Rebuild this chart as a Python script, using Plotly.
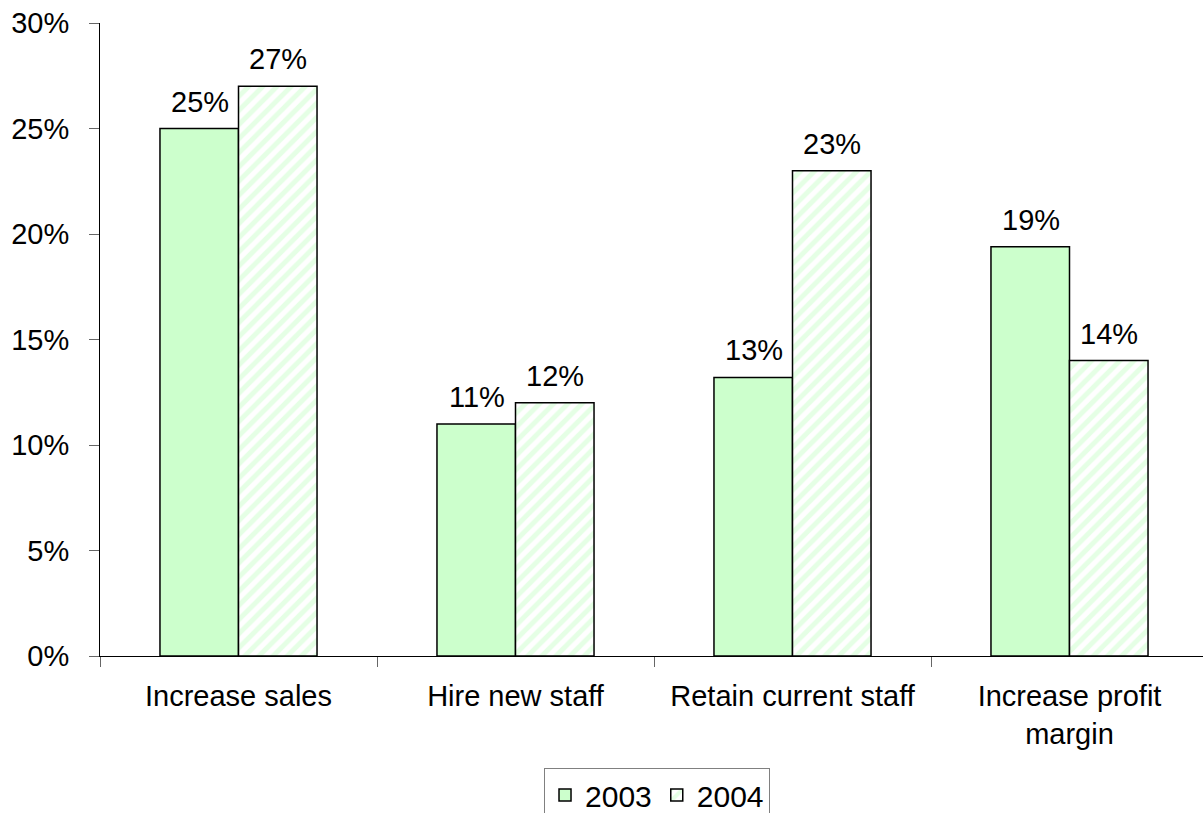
import plotly.graph_objects as go

categories = ["Increase sales", "Hire new staff", "Retain current staff", "Increase profit<br>margin"]
values_2003 = [25.0, 11.0, 13.2, 19.4]
values_2004 = [27.0, 12.0, 23.0, 14.0]
y_ticks = [0, 5, 10, 15, 20, 25, 30]

GREEN = "#ccffcc"
FONT = "Liberation Sans, Arial, sans-serif"
BAR_HALF_PX = 39  # horizontal offset of each series' bar centre within its group

fig = go.Figure()
fig.add_trace(go.Bar(
    name="2003", x=categories, y=values_2003,
    marker=dict(color=GREEN, line=dict(color="black", width=1.5)),
))
fig.add_trace(go.Bar(
    name="2004", x=categories, y=values_2004,
    marker=dict(color="white", line=dict(color="black", width=1.5),
                pattern=dict(shape="/", fgcolor=GREEN, bgcolor="white",
                             size=10, solidity=0.5, fillmode="overlay")),
))

# value labels above each bar
for vals, shift in ((values_2003, -BAR_HALF_PX), (values_2004, BAR_HALF_PX)):
    for cat, v in zip(categories, vals):
        fig.add_annotation(x=cat, y=v, text=f"{v:.0f}%", showarrow=False,
                           xshift=shift, yshift=9, yanchor="bottom",
                           font=dict(size=29, color="black", family=FONT))

fig.update_layout(
    width=1203, height=813,
    margin=dict(l=100, r=0, t=23, b=157, autoexpand=False),
    paper_bgcolor="white", plot_bgcolor="white",
    barmode="group", bargap=0.433, bargroupgap=0,
    font=dict(family=FONT, size=29, color="black"),
    showlegend=True,
    legend=dict(orientation="h", x=0.505, xanchor="center", y=-0.177, yanchor="top",
                bordercolor="#808080", borderwidth=1,
                font=dict(size=30, family=FONT), itemwidth=30,
                traceorder="normal"),
    xaxis=dict(range=[-0.5, 3.5 - 5 / 277], showline=True, linecolor="black", linewidth=1,
               ticks="outside", tickson="boundaries", ticklen=10, tickcolor="#666",
               showgrid=False, tickfont=dict(size=29), ticklabelstandoff=14,
               automargin=False),
    yaxis=dict(range=[0, 30], tickvals=y_ticks, ticktext=[f"{t}%" for t in y_ticks],
               showline=True, linecolor="black", linewidth=1, ticks="outside",
               ticklen=10, tickcolor="#666", showgrid=False, zeroline=False,
               tickfont=dict(size=29), ticklabelstandoff=14, automargin=False),
)

fig.write_html("out.html")
